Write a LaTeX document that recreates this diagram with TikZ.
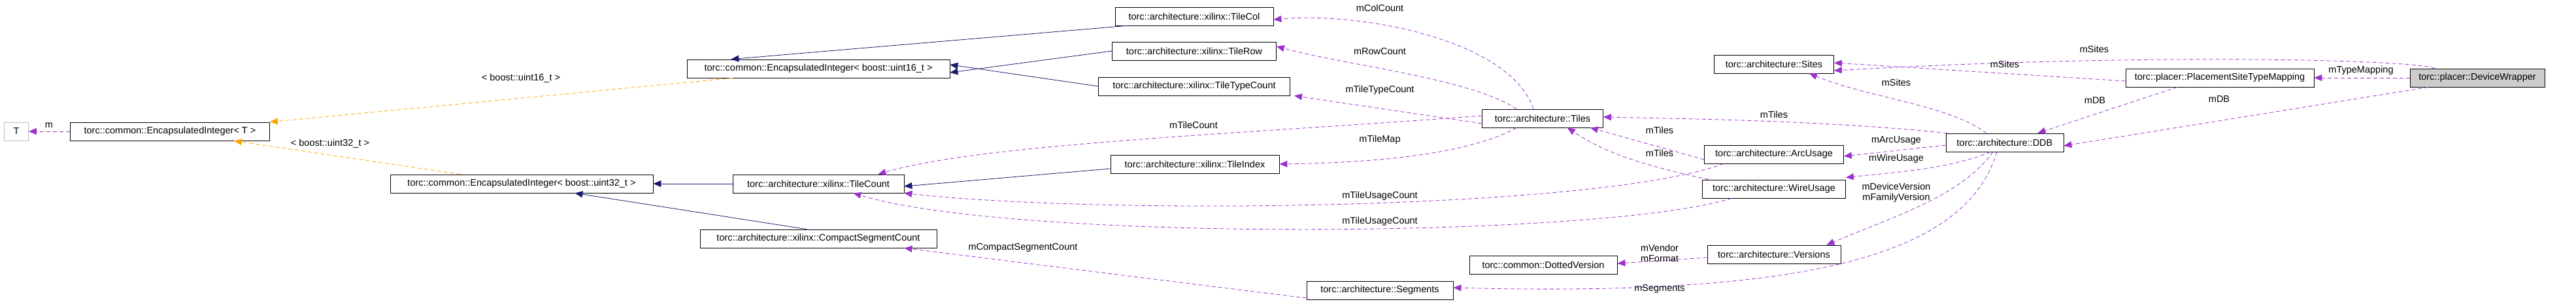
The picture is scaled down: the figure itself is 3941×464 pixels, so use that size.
\documentclass[tikz,border=0pt]{standalone}
\usepackage{fontspec}
\setmainfont{Liberation Sans}
\usepackage{tikz}
\usetikzlibrary{
	positioning,
	arrows.meta
}
\definecolor{usecol}{HTML}{9A32CD}
\definecolor{inhcol}{HTML}{191970}
\definecolor{tplcol}{HTML}{FFA500}

\begin{document}
\begin{tikzpicture}[x=1pt,y=-1pt,
		cls/.style={draw,thick,minimum height=28pt,inner sep=2pt,font=\fontsize{14.5}{16}\selectfont},
		lbl/.style={font=\fontsize{14.5}{16}\selectfont,align=center,inner sep=0pt},
		use/.style={usecol,dashed,thick,dash pattern=on 6pt off 4pt,-{Triangle[length=12pt,width=10pt]}},
		inh/.style={inhcol,thick,-{Triangle[length=12pt,width=10pt]}},
		tpl/.style={tplcol,dashed,thick,dash pattern=on 6pt off 4pt,-{Triangle[length=12pt,width=10pt]}}
	]
	\useasboundingbox (0,0) rectangle (3941,464);

	\draw
		node[cls,draw=lightgray,minimum width=37pt] (t)    at (25,201)   {T}
		node[cls,minimum width=305pt] (eiT)  at (260,201)  {torc::common::EncapsulatedInteger< T >}
		node[cls,minimum width=402pt] (ei16) at (1252,105) {torc::common::EncapsulatedInteger< boost::uint16\_t >}
		node[cls,minimum width=402pt] (ei32) at (798,281)  {torc::common::EncapsulatedInteger< boost::uint32\_t >}
		node[cls,minimum width=262pt] (tcnt) at (1252,281) {torc::architecture::xilinx::TileCount}
		node[cls,minimum width=362pt] (cseg) at (1252,365) {torc::architecture::xilinx::CompactSegmentCount}

		node[cls,minimum width=242pt] (tcol) at (1827,25)  {torc::architecture::xilinx::TileCol}
		node[cls,minimum width=251pt] (trow) at (1827,78)  {torc::architecture::xilinx::TileRow}
		node[cls,minimum width=293pt] (ttc)  at (1827,132) {torc::architecture::xilinx::TileTypeCount}
		node[cls,minimum width=258pt] (tidx) at (1828,251) {torc::architecture::xilinx::TileIndex}
		node[cls,minimum width=185pt] (tiles) at (2360,181) {torc::architecture::Tiles}
		node[cls,minimum width=226pt] (dver) at (2361,405) {torc::common::DottedVersion}
		node[cls,minimum width=224pt] (segs) at (2111,444) {torc::architecture::Segments}

		node[cls,minimum width=183pt] (sites) at (2714,98)  {torc::architecture::Sites}
		node[cls,minimum width=213pt] (arcu)  at (2714,236) {torc::architecture::ArcUsage}
		node[cls,minimum width=219pt] (wireu) at (2714,289) {torc::architecture::WireUsage}
		node[cls,minimum width=204pt] (vers)  at (2714,389) {torc::architecture::Versions}
		node[cls,minimum width=180pt] (ddb)   at (3067,218) {torc::architecture::DDB}
		node[cls,minimum width=288pt] (pstm)  at (3396,119) {torc::placer::PlacementSiteTypeMapping}
		node[cls,fill=lightgray!80,minimum width=206pt] (dw) at (3790,119) {torc::placer::DeviceWrapper}
	;

	% inheritance and templates
	\draw[use] (eiT.west) -- (t.east);
	\draw[tpl] (ei16.south west) ++(70,0) coordinate (e16s) -- (eiT.north east);
	\draw[tpl] (ei32.north) ++(-94,0) coordinate (e32n) -- ([xshift=-55pt]eiT.south east);
	\draw[inh] ([xshift=-225pt]tcol.south east) -- ([xshift=-335pt]ei16.north east);
	\draw[inh] (trow.west) -- ([yshift=-6pt]ei16.east);
	\draw[inh] (ttc.west) -- ([yshift=6pt]ei16.east);
	\draw[inh] (tcnt.west) -- (ei32.east);
	\draw[inh] ([xshift=-18pt]cseg.north) -- ([xshift=-120pt]ei32.south east);
	\draw[inh] ([yshift=-7pt]tidx.west) -- ([yshift=-4pt]tcnt.east);

	% members
	\draw[use] ([xshift=-14pt]tiles.north) .. controls (2310,60) and (2080,18) .. ([yshift=-5pt]tcol.east);
	\draw[use] ([xshift=-40pt]tiles.north) .. controls (2250,120) and (2060,100) .. ([yshift=7pt]trow.east);
	\draw[use] ([yshift=-8pt]tiles.west) -- ([xshift=6pt]ttc.south east);
	\draw[use] ([yshift=4pt]tiles.west) .. controls (1900,205) and (1500,220) .. ([xshift=-40pt]tcnt.north east);
	\draw[use] ([xshift=-40pt]tiles.south) .. controls (2240,240) and (2080,249) .. (tidx.east);
	\draw[use] ([xshift=30pt]arcu.south west) .. controls (2450,320) and (1700,330) .. ([yshift=0pt]tcnt.south east);
	\draw[use] ([xshift=45pt]wireu.south west) .. controls (2450,365) and (1550,370) .. ([xshift=-78pt]tcnt.south east);
	\draw[use] ([yshift=-8pt]arcu.west) -- ([xshift=-20pt]tiles.south east);
	\draw[use] ([xshift=10pt]wireu.north west) .. controls (2500,250) and (2450,230) .. ([xshift=-55pt]tiles.south east);
	\draw[use] ([xshift=2pt]ddb.north west) .. controls (2800,185) and (2600,182) .. ([yshift=2pt]tiles.east);
	\draw[use] ([xshift=-28pt]ddb.north) .. controls (2980,160) and (2860,150) .. ([xshift=-38pt]sites.south east);
	\draw[use] ([yshift=-4pt]ddb.west) -- ([yshift=-3pt]arcu.east);
	\draw[use] ([xshift=-22pt]ddb.south) .. controls (2980,260) and (2880,265) .. ([yshift=3pt]wireu.north east);
	\draw[use] ([xshift=-18pt]ddb.south) .. controls (3000,300) and (2900,330) .. ([xshift=-22pt]vers.north east);
	\draw[use] ([xshift=-12pt]ddb.south) .. controls (3010,380) and (2800,455) .. ([yshift=4pt]segs.east);
	\draw[use] ([yshift=-5pt]vers.west) -- ([yshift=2pt]dver.east);
	\draw[use] ([yshift=-12pt]segs.west) -- ([xshift=-50pt]cseg.south east);
	\draw[use] ([yshift=-5pt]pstm.west) -- ([yshift=2pt]sites.east);
	\draw[use] ([xshift=-65pt]pstm.south) -- ([xshift=-40pt]ddb.north east);
	\draw[use] ([xshift=-65pt]dw.north) .. controls (3700,92) and (3300,80) .. ([yshift=-10pt]sites.east);
	\draw[use] (dw.west) -- (pstm.east);
	\draw[use] ([xshift=-75pt]dw.south) -- ([yshift=-5pt]ddb.east);

	% labels
	\node[lbl] (lm)    at (75,192)   {m};
	\node[lbl] (l16)   at (797,120)  {< boost::uint16\_t >};
	\node[lbl] (l32)   at (505,220)  {< boost::uint32\_t >};
	\node[lbl] (lcol)  at (2111,12)  {mColCount};
	\node[lbl] (lrow)  at (2111,79)  {mRowCount};
	\node[lbl] (lttc)  at (2111,138) {mTileTypeCount};
	\node[lbl] (ltc)   at (1826,191) {mTileCount};
	\node[lbl] (lmap)  at (2111,214) {mTileMap};
	\node[lbl] (lu1)   at (2111,300) {mTileUsageCount};
	\node[lbl] (lu2)   at (2111,339) {mTileUsageCount};
	\node[lbl] (lt1)   at (2539,199) {mTiles};
	\node[lbl] (lt2)   at (2539,234) {mTiles};
	\node[lbl] (lt3)   at (2714,175) {mTiles};
	\node[lbl] (ls1)   at (2901,126) {mSites};
	\node[lbl] (larc)  at (2901,215) {mArcUsage};
	\node[lbl] (lwire) at (2901,243) {mWireUsage};
	\node[lbl] (lver)  at (2901,295) {mDeviceVersion\\mFamilyVersion};
	\node[lbl] (lseg)  at (2539,442) {mSegments};
	\node[lbl] (lvf)   at (2539,387) {mVendor\\mFormat};
	\node[lbl] (lcsc)  at (1565,379) {mCompactSegmentCount};
	\node[lbl] (ls2)   at (3067,98)  {mSites};
	\node[lbl] (ldb1)  at (3205,154) {mDB};
	\node[lbl] (ls3)   at (3204,75)  {mSites};
	\node[lbl] (ltm)   at (3612,108) {mTypeMapping};
	\node[lbl] (ldb2)  at (3395,152) {mDB};
\end{tikzpicture}
\end{document}
